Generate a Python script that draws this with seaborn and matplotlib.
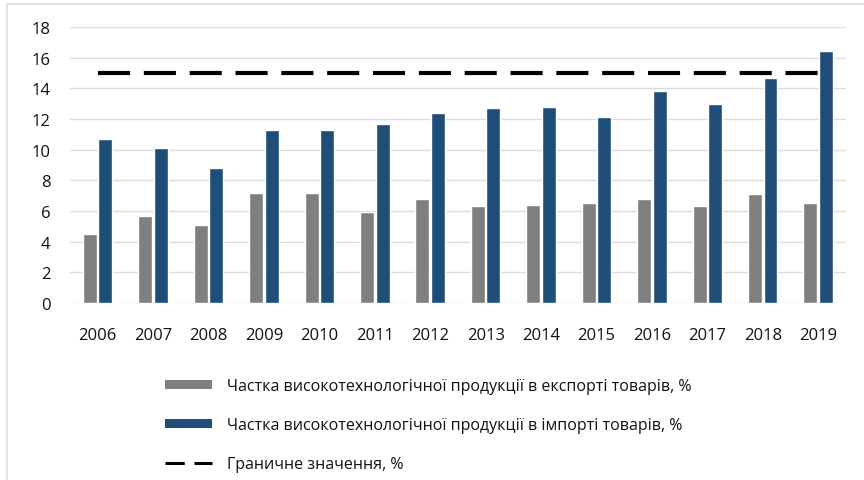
import numpy as np
import pandas as pd
import seaborn as sns
import matplotlib.pyplot as plt
from matplotlib.patches import Patch, Rectangle
from matplotlib.lines import Line2D

# Data
years = ["2006", "2007", "2008", "2009", "2010", "2011", "2012",
         "2013", "2014", "2015", "2016", "2017", "2018", "2019"]
export_share = [4.5, 5.7, 5.1, 7.2, 7.2, 5.9, 6.8, 6.3, 6.4, 6.5, 6.8, 6.3, 7.1, 6.5]
import_share = [10.7, 10.1, 8.8, 11.3, 11.3, 11.7, 12.4, 12.7, 12.8, 12.1, 13.8, 13.0, 14.7, 16.4]
threshold = 15

lbl_exp = "Частка високотехнологічної продукції в експорті товарів, %"
lbl_imp = "Частка високотехнологічної продукції в імпорті товарів, %"
lbl_thr = "Граничне значення, %"

df = pd.DataFrame({
    "year": years * 2,
    "value": export_share + import_share,
    "series": [lbl_exp] * len(years) + [lbl_imp] * len(years),
})

sns.set_style("white")
plt.rcParams["font.family"] = ["Open Sans", "DejaVu Sans"]

gray = "#7f7f7f"
blue = "#1f4e79"

fig = plt.figure(figsize=(8.64, 4.81), dpi=100)
ax = fig.add_axes([0.081, 0.368, 0.898, 0.574])

# threshold line behind bars
ax.plot(range(len(years)), [threshold] * len(years), color="black", lw=3,
        dashes=(7.7, 3.3), solid_capstyle="butt", dash_capstyle="butt", zorder=1)

sns.barplot(data=df, x="year", y="value", hue="series", order=years,
            palette=[gray, blue], width=0.56, gap=0.1, ax=ax,
            legend=False, saturation=1, zorder=2)

ax.set_ylim(0, 18)
ax.set_xlim(-0.5, 13.5)
ax.set_yticks(range(0, 19, 2))
ax.yaxis.grid(True, color="#dcdcdc", lw=1)
ax.set_axisbelow(True)
for s in ax.spines.values():
    s.set_visible(False)
ax.set_xlabel("")
ax.set_ylabel("")
ax.tick_params(axis="x", labelsize=12, pad=17, colors="#111111")
ax.tick_params(axis="y", labelsize=12, pad=14, colors="#111111")
ax.tick_params(length=0)

handles = [
    Patch(facecolor=gray, edgecolor="none"),
    Patch(facecolor=blue, edgecolor="none"),
    Line2D([0], [0], color="black", lw=2.2, dashes=(6.3, 3.2)),
]
fig.legend(handles, [lbl_exp, lbl_imp, lbl_thr], loc="upper left",
           bbox_to_anchor=(0.183, 0.225), frameon=False, fontsize=11.5,
           handlelength=3.0, handleheight=0.45, labelspacing=1.45,
           handletextpad=0.9, borderaxespad=0, labelcolor="#111111")

# light frame around the picture
fig.patches.append(Rectangle((7 / 864, -0.01), 1.1, 1 - 5 / 481 + 0.01,
                             transform=fig.transFigure, fill=False,
                             edgecolor="#dddddd", lw=1.2))

fig.savefig("out.png", dpi=100)
